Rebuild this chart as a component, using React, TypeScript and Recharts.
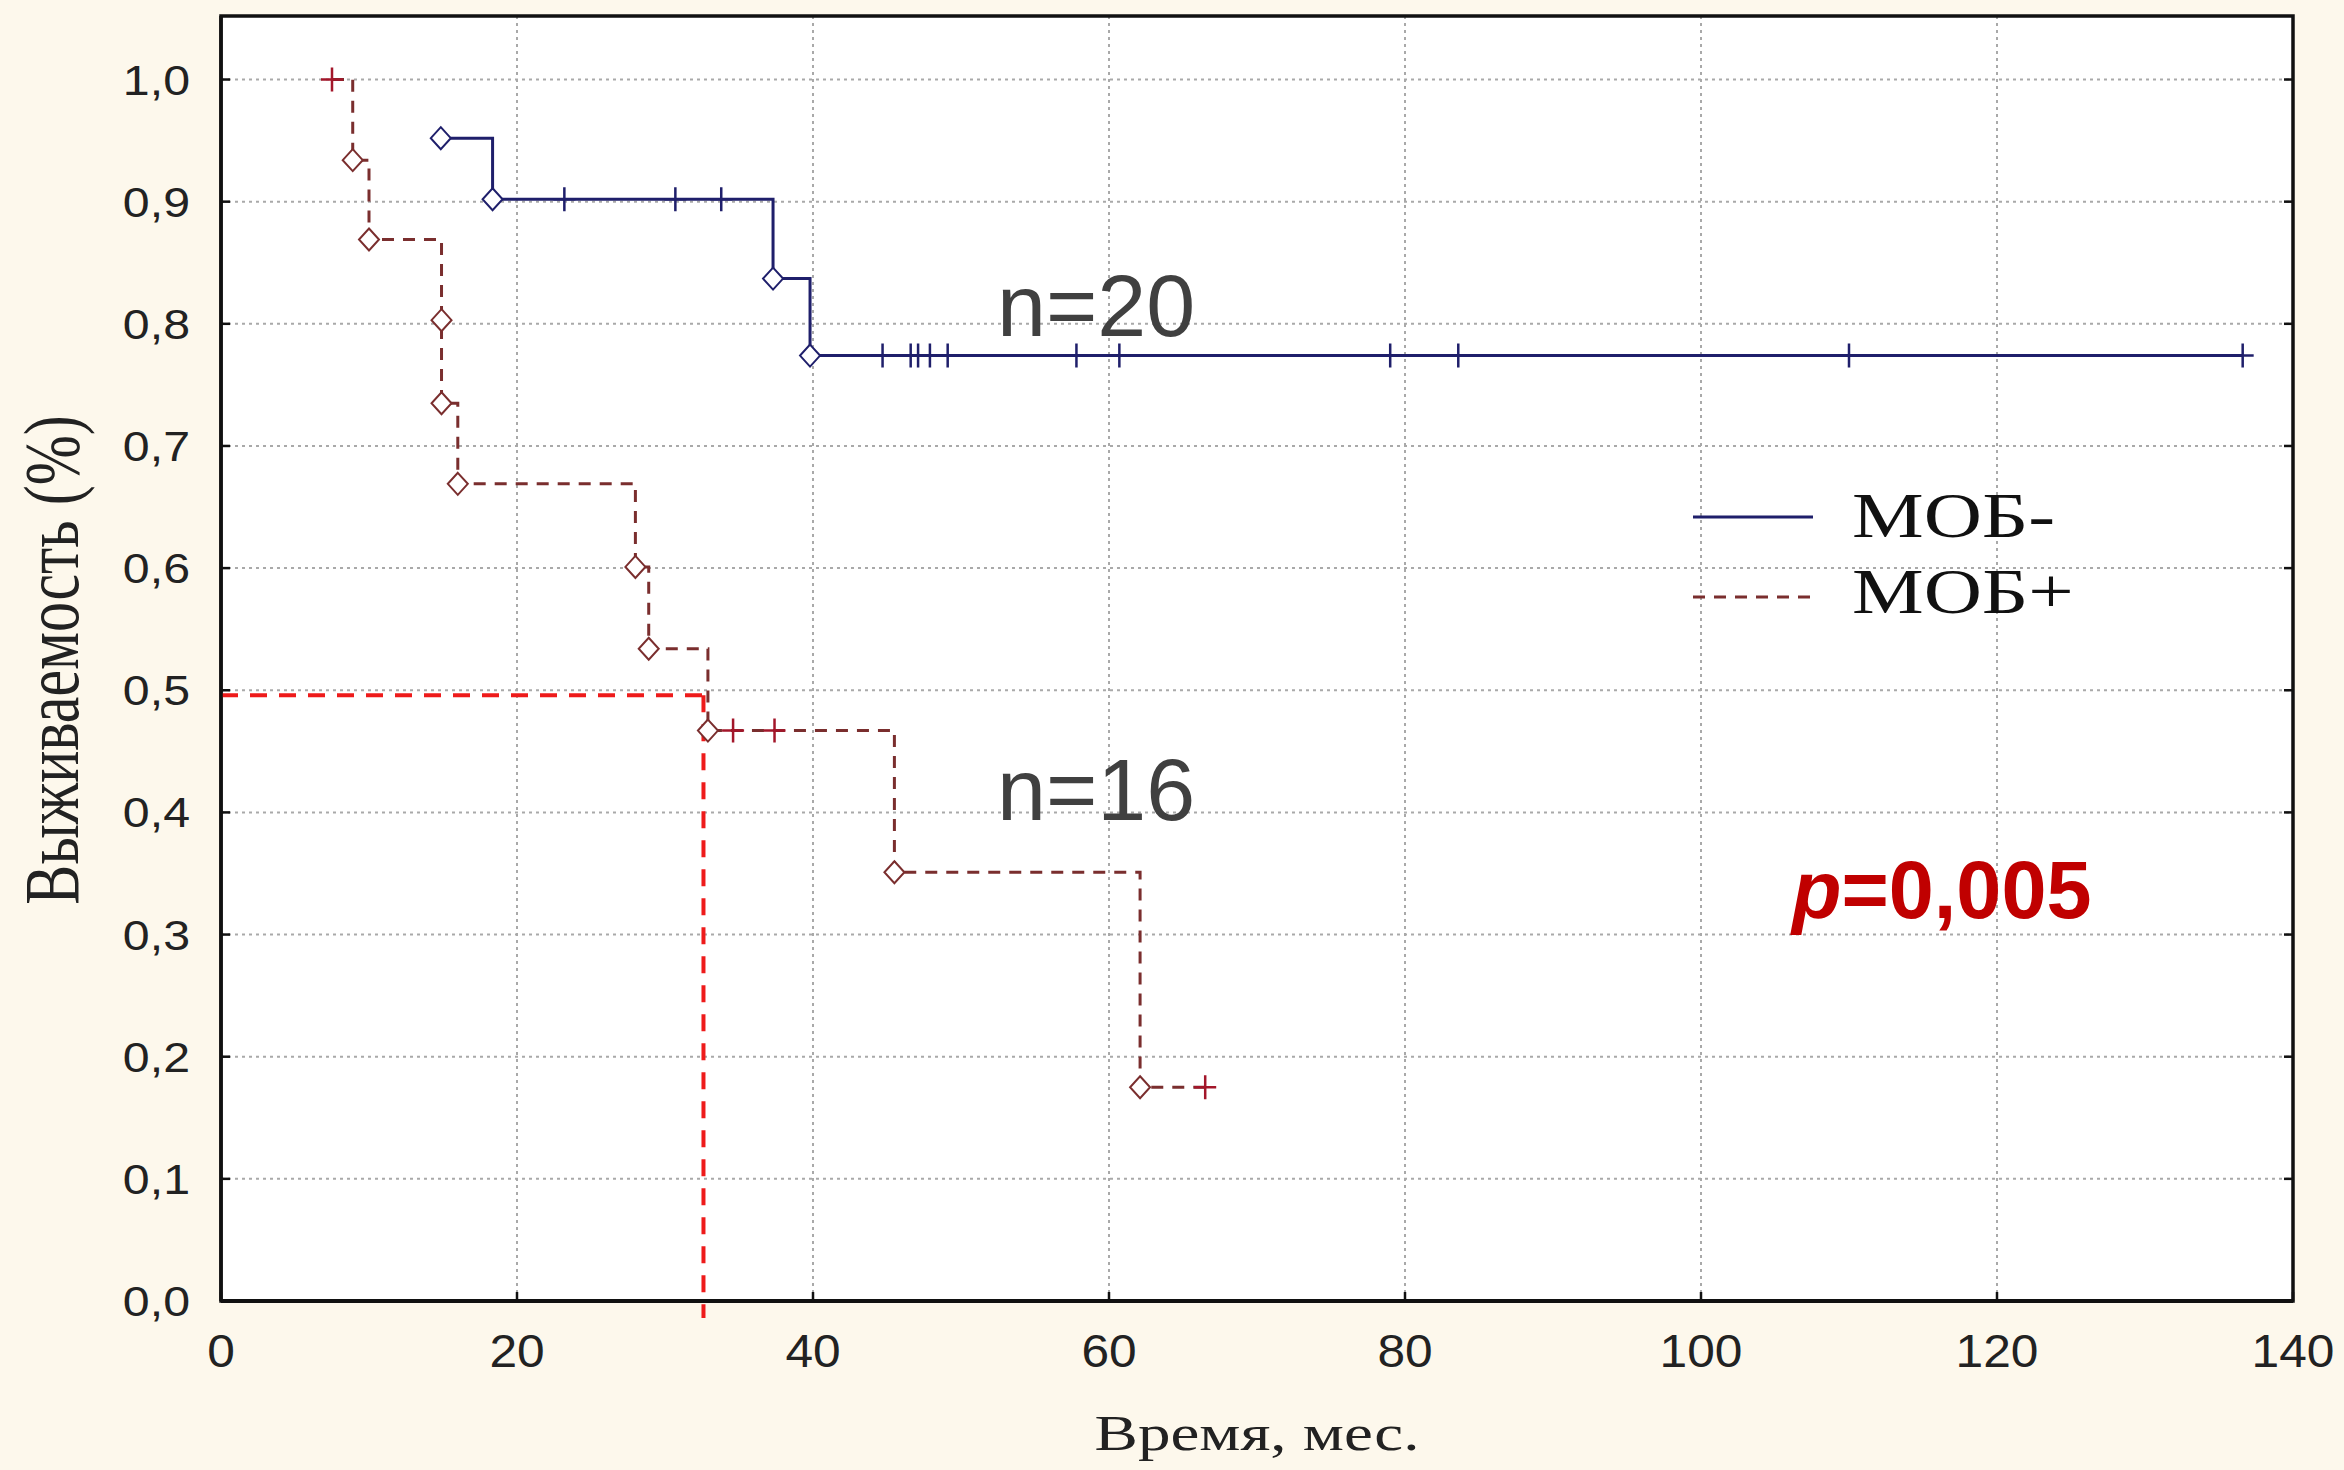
import React from 'react';
import {
  LineChart,
  Line,
  XAxis,
  YAxis,
  CartesianGrid,
  ReferenceLine,
  ReferenceArea,
  Legend,
} from 'recharts';

const W = 2344;
const H = 1470;
const X_AXIS_H = 80;
const Y_AXIS_W = 80;
const MARGIN = { top: 16, right: 51, bottom: 169 - X_AXIS_H, left: 221 - Y_AXIS_W };
const PLOT_RIGHT = W - MARGIN.right;

// МОБ- (n=20): time (months), survival, e = event (diamond), c = censored (+)
const mobNegTime = [14.85, 18.35, 23.2, 30.7, 33.8, 37.3, 39.8, 44.7, 46.6, 47.1, 47.9, 49.1, 57.8, 60.7, 79.0, 83.6, 110.0, 136.6];
const mobNegSurv = [0.952, 0.902, 0.902, 0.902, 0.902, 0.837, 0.774, 0.774, 0.774, 0.774, 0.774, 0.774, 0.774, 0.774, 0.774, 0.774, 0.774, 0.774];
const mobNegKind = ['e', 'e', 'c', 'c', 'c', 'e', 'e', 'c', 'c', 'c', 'c', 'c', 'c', 'c', 'c', 'c', 'c', 'c'];

// МОБ+ (n=16)
const mobPosTime = [7.5, 8.9, 10.0, 14.9, 14.9, 16.0, 28.0, 28.9, 32.9, 34.6, 37.4, 45.5, 62.1, 66.5];
const mobPosSurv = [1.0, 0.934, 0.869, 0.803, 0.735, 0.669, 0.601, 0.534, 0.467, 0.467, 0.467, 0.351, 0.175, 0.175];
const mobPosKind = ['c', 'e', 'e', 'e', 'e', 'e', 'e', 'e', 'e', 'c', 'c', 'e', 'e', 'c'];

const seriesNames = ['МОБ-', 'МОБ+'];

// median survival marker for МОБ+
const medianTime = 32.6;
const medianLevel = 0.496;

const xTicks = [0, 20, 40, 60, 80, 100, 120, 140];
const yTicks = [0, 0.1, 0.2, 0.3, 0.4, 0.5, 0.6, 0.7, 0.8, 0.9, 1.0];
const yTickLabels = ['0,0', '0,1', '0,2', '0,3', '0,4', '0,5', '0,6', '0,7', '0,8', '0,9', '1,0'];

const annotations = { nNeg: 'n=20', nPos: 'n=16', pValue: '=0,005' };

const NEG_COLOR = '#1f1f6b';
const POS_COLOR = '#7a2e2e';
const POS_MARK = '#a3162a';
const SANS = '"Liberation Sans", Arial, sans-serif';
const SERIF = '"Liberation Serif", "Times New Roman", serif';

const negData = mobNegTime.map((t, i) => ({ t, s: mobNegSurv[i], kind: mobNegKind[i] }));
const posData = mobPosTime.map((t, i) => ({ t, s: mobPosSurv[i], kind: mobPosKind[i] }));

function makeDot(lineColor: string, plusColor: string) {
  return (props: any) => {
    const { cx, cy, payload, index } = props;
    if (cx == null || cy == null) return <g key={`d-${index}`} />;
    if (payload.kind === 'e') {
      return (
        <polygon
          key={`d-${index}`}
          points={`${cx},${cy - 11} ${cx + 10},${cy} ${cx},${cy + 11} ${cx - 10},${cy}`}
          fill="#ffffff"
          stroke={lineColor}
          strokeWidth={2}
        />
      );
    }
    return (
      <path
        key={`d-${index}`}
        d={`M${cx - 11},${cy} H${cx + 11} M${cx},${cy - 12} V${cy + 12}`}
        stroke={plusColor}
        strokeWidth={2.5}
        fill="none"
      />
    );
  };
}

function XTick(props: any) {
  const { x, y, payload } = props;
  return (
    <g>
      <line x1={x} y1={y} x2={x} y2={y - 9} stroke="#111" strokeWidth={2.5} />
      <text
        transform={`translate(${x},${y + 66}) scale(1.08,1)`}
        textAnchor="middle"
        fontFamily={SANS}
        fontSize={46}
        fill="#222"
      >
        {payload.value}
      </text>
    </g>
  );
}

function YTick(props: any) {
  const { x, y, payload } = props;
  const label = yTickLabels[yTicks.indexOf(payload.value)] ?? String(payload.value);
  return (
    <g>
      <line x1={x} y1={y} x2={x + 9} y2={y} stroke="#111" strokeWidth={2.5} />
      <line x1={PLOT_RIGHT - 9} y1={y} x2={PLOT_RIGHT} y2={y} stroke="#111" strokeWidth={2.5} />
      <text
        transform={`translate(${x - 31},${y + 15}) scale(1.15,1)`}
        textAnchor="end"
        fontFamily={SANS}
        fontSize={42}
        fill="#222"
      >
        {label}
      </text>
    </g>
  );
}

const renderLegend = () => (
  <svg width={460} height={170}>
    <line x1={13} y1={47} x2={133} y2={47} stroke={NEG_COLOR} strokeWidth={3} />
    <text transform="translate(172,67) scale(1.26,1)" fontFamily={SERIF} fontSize={64} fill="#111">
      {seriesNames[0]}
    </text>
    <line x1={13} y1={127} x2={133} y2={127} stroke={POS_COLOR} strokeWidth={3} strokeDasharray="12 9" />
    <text transform="translate(172,143) scale(1.26,1)" fontFamily={SERIF} fontSize={64} fill="#111">
      {seriesNames[1]}
    </text>
  </svg>
);

export default function App() {
  return (
    <div style={{ position: 'absolute', left: 0, top: 0, width: W, height: H, background: '#fdf8ec' }}>
      <LineChart width={W} height={H} margin={MARGIN}>
        <CartesianGrid
          stroke="#a9a9a9"
          strokeWidth={2}
          strokeDasharray="3 4"
          fill="#ffffff"
          fillOpacity={1}
        />
        <XAxis
          dataKey="t"
          type="number"
          domain={[0, 140]}
          ticks={xTicks}
          interval={0}
          allowDataOverflow
          height={X_AXIS_H}
          tickSize={0}
          tickMargin={0}
          tickLine={false}
          tick={<XTick />}
          axisLine={{ stroke: '#111', strokeWidth: 4 }}
        />
        <YAxis
          type="number"
          domain={[0, 1.052]}
          ticks={yTicks}
          interval={0}
          allowDataOverflow
          width={Y_AXIS_W}
          tickSize={0}
          tickMargin={0}
          tickLine={false}
          tick={<YTick />}
          axisLine={{ stroke: '#111', strokeWidth: 3.5 }}
        />
        <Legend
          content={renderLegend}
          layout="horizontal"
          verticalAlign="middle"
          align="center"
          wrapperStyle={{ position: 'absolute', left: 1680, top: 470, width: 460, height: 170 }}
        />
        <Line
          name={seriesNames[0]}
          data={negData}
          dataKey="s"
          type="stepAfter"
          stroke={NEG_COLOR}
          strokeWidth={3}
          dot={makeDot(NEG_COLOR, NEG_COLOR)}
          activeDot={false}
          isAnimationActive={false}
        />
        <Line
          name={seriesNames[1]}
          data={posData}
          dataKey="s"
          type="stepAfter"
          stroke={POS_COLOR}
          strokeWidth={3}
          strokeDasharray="12 9"
          dot={makeDot(POS_COLOR, POS_MARK)}
          activeDot={false}
          isAnimationActive={false}
        />
        <ReferenceLine
          segment={[{ x: 0, y: medianLevel }, { x: medianTime, y: medianLevel }]}
          stroke="#ee1b1b"
          strokeWidth={4}
          strokeDasharray="17 12"
          ifOverflow="visible"
        />
        <ReferenceLine
          segment={[{ x: medianTime, y: medianLevel }, { x: medianTime, y: -0.014 }]}
          stroke="#ee1b1b"
          strokeWidth={4}
          strokeDasharray="17 12"
          ifOverflow="visible"
        />
        <ReferenceArea
          x1={0}
          x2={140}
          y1={0}
          y2={1.052}
          fill="none"
          stroke="#111"
          strokeWidth={3.5}
          ifOverflow="visible"
        />
      </LineChart>
      <svg
        width={W}
        height={H}
        style={{ position: 'absolute', left: 0, top: 0, pointerEvents: 'none' }}
      >
        <text
          transform="translate(78,660) scale(1.3,1) rotate(-90)"
          textAnchor="middle"
          fontFamily={SERIF}
          fontSize={60}
          fill="#222"
        >
          Выживаемость (%)
        </text>
        <text
          transform="translate(1257,1450) scale(1.3,1)"
          textAnchor="middle"
          fontFamily={SERIF}
          fontSize={50}
          fill="#222"
        >
          Время, мес.
        </text>
        <text x={997} y={336} fontFamily={SANS} fontSize={88} fill="#404040">
          {annotations.nNeg}
        </text>
        <text x={997} y={820} fontFamily={SANS} fontSize={88} fill="#404040">
          {annotations.nPos}
        </text>
        <text x={1792} y={918} fontFamily={SANS} fontSize={81} fontWeight="bold" fill="#c00000">
          <tspan fontStyle="italic">p</tspan>
          {annotations.pValue}
        </text>
      </svg>
    </div>
  );
}
